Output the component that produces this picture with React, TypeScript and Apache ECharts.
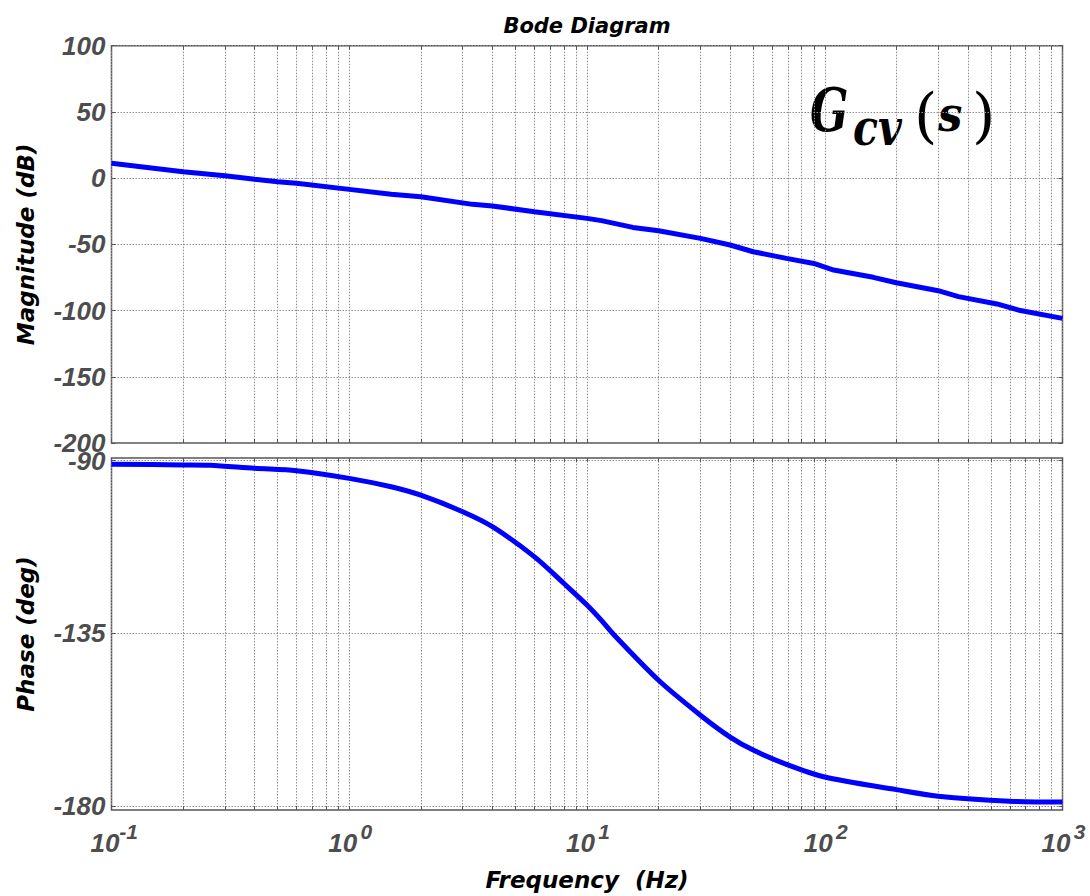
import React, { useEffect, useRef } from 'react';
import * as echarts from 'echarts';

// ---- data ----
const decadeExponents = [-1, 0, 1, 2, 3];
const minorMultipliers = [2, 3, 4, 5, 6, 7, 8, 9];
const magnitudeTicks = [-200, -150, -100, -50, 0, 50, 100];
const phaseTicks = [-180, -135, -90];

const magFreq = [0.1, 0.2, 0.3, 0.4, 0.5, 0.6, 1, 1.5, 2, 3.3, 4, 6, 10, 11.5, 15.6, 20, 30, 40, 50, 69, 90, 109, 160, 200, 300, 365, 530, 665, 1000];
const magDb = [11.2, 4.8, 1.8, -0.9, -2.7, -3.9, -8.5, -12.2, -14, -19.8, -21, -25.4, -30.4, -32.1, -37.2, -39.7, -45.5, -50.5, -55.6, -60.6, -64.4, -69.4, -74.9, -79, -85, -89.5, -95, -100, -105.9];

const phaseFreq = [0.1, 0.2, 0.26, 0.4, 0.6, 1, 1.5, 2, 3, 4, 6, 8, 10, 11.5, 13, 20, 30, 40, 50, 69, 100, 200, 300, 600, 1000];
const phaseDeg = [-90.9, -91.1, -91.2, -92, -92.6, -94.6, -96.8, -99, -103.3, -107.2, -115, -122, -127.6, -131.6, -135.4, -147.2, -156.3, -162, -165.4, -169.1, -172.4, -175.7, -177.4, -178.7, -178.9];

const FONT = "'Liberation Sans', Arial, sans-serif";
const TITLE_FONT = "'DejaVu Sans', 'Liberation Sans', sans-serif";
const MATH_FONT = "'DejaVu Serif', serif";
const LABEL_COLOR = '#4d4d4d';
const FRAME_COLOR = '#555555';

export default function App() {
  const ref = useRef<HTMLDivElement>(null);

  useEffect(() => {
    if (!ref.current) return;
    const chart = echarts.init(ref.current, null, { renderer: 'svg' });

    const allTicks: number[] = [];
    decadeExponents.forEach((e, i) => {
      allTicks.push(e);
      if (i < decadeExponents.length - 1) {
        minorMultipliers.forEach((m) => allTicks.push(e + Math.log10(m)));
      }
    });

    const magData = magFreq.map((f, i) => [Math.log10(f), magDb[i]]);
    const phaseData = phaseFreq.map((f, i) => [Math.log10(f), phaseDeg[i]]);

    const gridLine = { show: true, lineStyle: { color: '#8f8f8f', type: [1.5, 1.5], width: 1 } };
    const tick = (values?: number[]) => ({
      show: true,
      inside: true,
      length: 4,
      ...(values ? { customValues: values } : {}),
      lineStyle: { color: FRAME_COLOR, width: 1 },
    });
    const noLine = { show: false, onZero: false };

    const xAxisBase = (gridIndex: number, position: string, split: boolean) => ({
      type: 'value',
      gridIndex,
      position,
      min: -1,
      max: 3,
      interval: 1,
      axisLine: noLine,
      axisTick: tick(allTicks),
      axisLabel: { show: false },
      splitLine: split ? gridLine : { show: false },
    });

    const yLabel = {
      show: true,
      margin: 6,
      color: LABEL_COLOR,
      fontFamily: FONT,
      fontWeight: 'bold',
      fontStyle: 'italic',
      fontSize: 26,
    };

    const nameStyle = {
      color: '#000',
      fontFamily: TITLE_FONT,
      fontWeight: 'bold',
      fontStyle: 'italic',
      fontSize: 23,
    };

    const mathText = (text: string, x: number, y: number, size: number, scaleX: number, bold: boolean) => ({
      type: 'text',
      x,
      y,
      scaleX,
      style: {
        text,
        fontFamily: MATH_FONT,
        fontWeight: bold ? 'bold' : 'normal',
        fontStyle: bold ? 'italic' : 'normal',
        fontSize: size,
        fill: '#000',
        verticalAlign: 'bottom',
      },
    });

    const tickFont = { fontFamily: FONT, fontWeight: 'bold', fontStyle: 'italic', color: LABEL_COLOR, verticalAlign: 'middle' };

    const option = {
      animation: false,
      backgroundColor: '#ffffff',
      grid: [
        { left: 111.5, top: 45.7, width: 951, height: 397.3, show: true, borderColor: FRAME_COLOR, borderWidth: 1.5, backgroundColor: 'transparent' },
        { left: 111.5, top: 458, width: 951, height: 352, show: true, borderColor: FRAME_COLOR, borderWidth: 1.5, backgroundColor: 'transparent' },
      ],
      xAxis: [
        xAxisBase(0, 'bottom', true),
        {
          ...xAxisBase(0, 'top', false),
          name: 'Bode Diagram',
          nameLocation: 'middle',
          nameGap: 9,
          nameTextStyle: { ...nameStyle, fontSize: 21 },
        },
        {
          ...xAxisBase(1, 'bottom', true),
          axisLabel: {
            show: true,
            customValues: decadeExponents,
            margin: 14,
            formatter: (v: number) => `{s|${Math.round(v)}}\n{b|10}`,
            rich: {
              b: { ...tickFont, fontSize: 26, lineHeight: 10, padding: [0, 13, 0, 0] },
              s: { ...tickFont, fontSize: 21, lineHeight: 14, padding: [0, 0, 0, 34] },
            },
          },
          name: 'Frequency  (Hz)',
          nameLocation: 'middle',
          nameGap: 58,
          nameTextStyle: nameStyle,
        },
        xAxisBase(1, 'top', false),
      ],
      yAxis: [
        {
          type: 'value',
          gridIndex: 0,
          position: 'left',
          min: -200,
          max: 100,
          interval: 50,
          axisLine: noLine,
          axisTick: tick(),
          axisLabel: yLabel,
          splitLine: gridLine,
          name: 'Magnitude (dB)',
          nameLocation: 'middle',
          nameRotate: 90,
          nameGap: 74,
          nameTextStyle: nameStyle,
        },
        {
          type: 'value',
          gridIndex: 0,
          position: 'right',
          min: -200,
          max: 100,
          interval: 50,
          axisLine: noLine,
          axisTick: tick(),
          axisLabel: { show: false },
          splitLine: { show: false },
        },
        {
          type: 'value',
          gridIndex: 1,
          position: 'left',
          min: -181,
          max: -89.3,
          axisLine: noLine,
          axisTick: tick(phaseTicks),
          axisLabel: { ...yLabel, customValues: phaseTicks },
          splitLine: gridLine,
          name: 'Phase (deg)',
          nameLocation: 'middle',
          nameRotate: 90,
          nameGap: 74,
          nameTextStyle: nameStyle,
        },
        {
          type: 'value',
          gridIndex: 1,
          position: 'right',
          min: -181,
          max: -89.3,
          axisLine: noLine,
          axisTick: tick(phaseTicks),
          axisLabel: { show: false },
          splitLine: { show: false },
        },
      ],
      series: [
        {
          type: 'line',
          xAxisIndex: 0,
          yAxisIndex: 0,
          data: magData,
          showSymbol: false,
          lineStyle: { color: '#0000ff', width: 5 },
          z: 5,
        },
        {
          type: 'line',
          xAxisIndex: 2,
          yAxisIndex: 2,
          data: phaseData,
          showSymbol: false,
          smooth: 0.3,
          lineStyle: { color: '#0000ff', width: 5 },
          z: 5,
        },
      ],
      graphic: [
        mathText('G', 810, 140, 60, 0.75, true),
        mathText('cv', 853, 153, 50, 0.82, true),
        mathText('(', 914, 145, 60, 1, false),
        mathText('s', 938, 138, 48, 0.9, true),
        mathText(')', 972, 145, 60, 1, false),
      ],
    };

    chart.setOption(option as any);
    return () => chart.dispose();
  }, []);

  return (
    <div
      ref={ref}
      style={{ position: 'absolute', left: 0, top: 0, width: 1090, height: 896, background: '#fff' }}
    />
  );
}
